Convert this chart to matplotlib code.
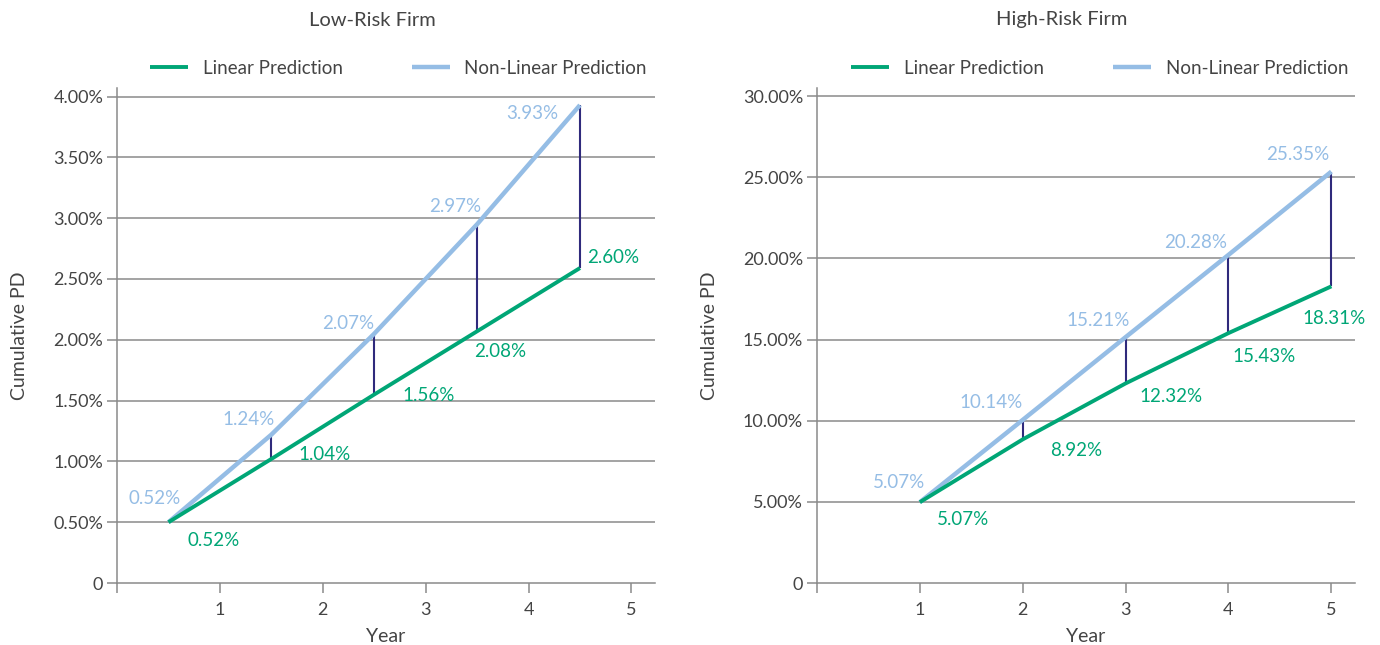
import matplotlib
matplotlib.use("Agg")
import matplotlib.pyplot as plt

# data
years_low = [0.5, 1.5, 2.5, 3.5, 4.5]
linear_low = [0.50, 1.02, 1.55, 2.07, 2.59]
nonlinear_low = [0.50, 1.22, 2.05, 2.95, 3.93]
linear_low_labels = ["0.52%", "1.04%", "1.56%", "2.08%", "2.60%"]
nonlinear_low_labels = ["0.52%", "1.24%", "2.07%", "2.97%", "3.93%"]

years_high = [1, 2, 3, 4, 5]
linear_high = [4.98, 8.85, 12.30, 15.40, 18.28]
nonlinear_high = [4.98, 10.05, 15.15, 20.22, 25.35]
linear_high_labels = ["5.07%", "8.92%", "12.32%", "15.43%", "18.31%"]
nonlinear_high_labels = ["5.07%", "10.14%", "15.21%", "20.28%", "25.35%"]

low_yticks = [0, 0.5, 1.0, 1.5, 2.0, 2.5, 3.0, 3.5, 4.0]
low_yticklabels = ["0", "0.50%", "1.00%", "1.50%", "2.00%", "2.50%", "3.00%", "3.50%", "4.00%"]
high_yticks = [0, 5, 10, 15, 20, 25, 30]
high_yticklabels = ["0", "5.00%", "10.00%", "15.00%", "20.00%", "25.00%", "30.00%"]

GREEN = "#00a676"
BLUE = "#95bde5"
NAVY = "#2f2a7c"
GREY = "#8a8a8a"
TXT = "#444444"

plt.rcParams["font.family"] = ["Lato", "DejaVu Sans"]

# label offsets in pixels (dx, dy up)
off_low_lin = [(45, -18), (53, 4), (54, -1), (23, -20), (33, 11)]
off_low_non = [(-14, 24), (-23, 15), (-26, 10), (-22, 18), (-48, -8)]
off_high_lin = [(43, -17), (53, -11), (45, -13), (36, -23), (3, -32)]
off_high_non = [(-21, 20), (-32, 17), (-27, 17), (-33, 12), (-34, 17)]

fig = plt.figure(figsize=(13.8, 6.45), dpi=100)
ax1 = fig.add_axes([0.0848, 0.0961, 0.3899, 0.7674])
ax2 = fig.add_axes([0.592, 0.0961, 0.3899, 0.7674])


def draw(ax, x, lin, non, lin_lab, non_lab, off_lin, off_non, yticks, yticklabels, ytop):
    ax.set_xlim(0, 5.23)
    ax.set_ylim(0, ytop)
    for y in yticks[1:]:
        ax.axhline(y, color=GREY, lw=1.1, zorder=1)
    ax.vlines(x[1:], lin[1:], non[1:], color=NAVY, lw=1.5, zorder=2)
    ax.plot(x, non, color=BLUE, lw=3.2, solid_capstyle="butt", zorder=3,
            label="Non-Linear Prediction")
    ax.plot(x, lin, color=GREEN, lw=2.8, solid_capstyle="butt", zorder=4,
            label="Linear Prediction")
    for i in range(len(x)):
        ax.annotate(lin_lab[i], (x[i], lin[i]), xytext=(off_lin[i][0] * 0.72, off_lin[i][1] * 0.72),
                    textcoords="offset points", ha="center", va="center",
                    color=GREEN, fontsize=13.5)
        ax.annotate(non_lab[i], (x[i], non[i]), xytext=(off_non[i][0] * 0.72, off_non[i][1] * 0.72),
                    textcoords="offset points", ha="center", va="center",
                    color=BLUE, fontsize=13.5)
    ax.set_yticks(yticks)
    ax.set_yticklabels(yticklabels)
    ax.set_xticks([0, 1, 2, 3, 4, 5])
    ax.set_xticklabels(["", "1", "2", "3", "4", "5"])
    ax.tick_params(axis="both", colors=GREY, labelcolor=TXT, labelsize=13,
                   length=7, width=1.1)
    ax.tick_params(axis="y", pad=3)
    ax.tick_params(axis="x", pad=7)
    for s in ["top", "right"]:
        ax.spines[s].set_visible(False)
    for s in ["left", "bottom"]:
        ax.spines[s].set_color(GREY)
        ax.spines[s].set_linewidth(1.1)
    ax.set_xlabel("Year", color=TXT, fontsize=14, labelpad=7)
    ax.set_ylabel("Cumulative PD", color=TXT, fontsize=14, labelpad=18)


draw(ax1, years_low, linear_low, nonlinear_low, linear_low_labels, nonlinear_low_labels,
     off_low_lin, off_low_non, low_yticks, low_yticklabels, 4.07)
draw(ax2, years_high, linear_high, nonlinear_high, linear_high_labels, nonlinear_high_labels,
     off_high_lin, off_high_non, high_yticks, high_yticklabels, 30.5)

fig.text(372 / 1380, 1 - 20 / 645, "Low-Risk Firm", ha="center", va="center", color=TXT, fontsize=14.5)
fig.text(1062 / 1380, 1 - 20 / 645, "High-Risk Firm", ha="center", va="center", color=TXT, fontsize=14.5)

for ax, right in [(ax1, 647 / 1380), (ax2, 1348 / 1380)]:
    h, l = ax.get_legend_handles_labels()
    leg = fig.legend(h[::-1], l[::-1], ncol=2, frameon=False, loc="center right",
                     bbox_to_anchor=(right, 1 - 68 / 645), fontsize=13.5,
                     handlelength=2.0, columnspacing=3.7, handletextpad=0.8,
                     borderaxespad=0, borderpad=0)
    for t in leg.get_texts():
        t.set_color(TXT)

fig.savefig("out.png", dpi=100)
